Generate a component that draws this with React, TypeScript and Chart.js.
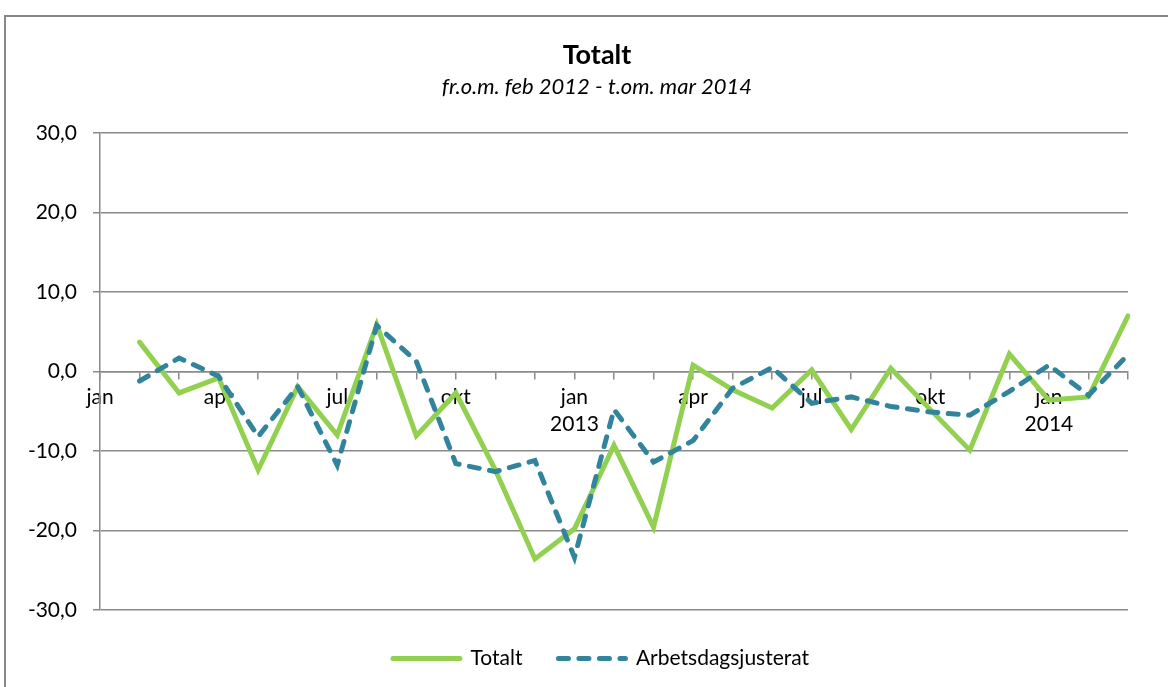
import React, { useEffect, useRef } from 'react';
import { Chart, registerables } from 'chart.js';

Chart.register(...registerables);

const FONT = 'Lato';

const tickLabels: (string | string[])[] = [
  'jan', '', '', 'apr', '', '', 'jul', '', '', 'okt', '', '',
  ['jan', '2013'], '', '', 'apr', '', '', 'jul', '', '', 'okt', '', '',
  ['jan', '2014'], '', '',
];

const totalt: (number | null)[] = [
  null, 3.7, -2.7, -0.8, -12.4, -1.9, -8.0, 5.9, -8.1, -2.7, -12.4, -23.6,
  -19.8, -9.3, -19.6, 0.8, -2.3, -4.6, 0.2, -7.3, 0.4, -4.8, -9.9, 2.2,
  -3.6, -3.2, 7.0,
];

const arbetsdagsjusterat: (number | null)[] = [
  null, -1.2, 1.7, -0.6, -8.2, -1.9, -11.8, 5.8, 1.3, -11.6, -12.6, -11.2,
  -23.4, -4.8, -11.4, -8.7, -2.1, 0.5, -4.0, -3.2, -4.4, -5.1, -5.5, -2.5,
  0.8, -3.0, 2.1,
];

const yTicks = [-30, -20, -10, 0, 10, 20, 30];

const GREEN = '#92D050';
const BLUE = '#31849B';
const GRID = '#8a8a8a';
const DASH = [10, 10.5];

const borderPlugin = {
  id: 'outerBorder',
  beforeDraw(chart: any) {
    const ctx = chart.ctx;
    ctx.save();
    ctx.fillStyle = '#ffffff';
    ctx.fillRect(0, 0, chart.width, chart.height);
    ctx.strokeStyle = '#878787';
    ctx.lineWidth = 2;
    ctx.strokeRect(5, 16, 1400, 1000);
    ctx.restore();
  },
};

// shift the title block and legend horizontally so they are centred where the reference has them
const shiftPlugin = {
  id: 'shiftBlocks',
  afterLayout(chart: any) {
    (chart.boxes || []).forEach((box: any) => {
      if (box.axis) return;
      const dx = box === chart.legend ? 37 : 33;
      box.left += dx;
      box.right += dx;
    });
  },
};

export default function App() {
  const ref = useRef<HTMLCanvasElement | null>(null);

  useEffect(() => {
    if (!ref.current) return;
    const chart = new Chart(ref.current, {
      type: 'line',
      data: {
        labels: tickLabels,
        datasets: [
          {
            label: 'Totalt',
            data: totalt,
            borderColor: GREEN,
            backgroundColor: GREEN,
            borderWidth: 5,
            borderCapStyle: 'round',
            pointRadius: 0,
            tension: 0,
            borderJoinStyle: 'miter',
            order: 2,
          },
          {
            label: 'Arbetsdagsjusterat',
            data: arbetsdagsjusterat,
            borderColor: BLUE,
            backgroundColor: BLUE,
            borderWidth: 5,
            borderDash: DASH,
            borderCapStyle: 'round',
            pointRadius: 0,
            tension: 0,
            order: 1,
          },
        ],
      },
      plugins: [borderPlugin, shiftPlugin],
      options: {
        responsive: false,
        animation: false,
        layout: { padding: { left: 0, right: 40, top: 39, bottom: 8 } },
        scales: {
          x: {
            type: 'category',
            position: { y: 0 },
            offset: false,
            grid: {
              display: true,
              drawOnChartArea: false,
              drawTicks: true,
              tickLength: 7,
              color: GRID,
              lineWidth: 1.5,
            },
            border: { display: true, color: GRID, width: 1.5 },
            ticks: {
              autoSkip: false,
              maxRotation: 0,
              minRotation: 0,
              padding: 5,
              color: '#000',
              font: { family: FONT, size: 21, lineHeight: 1.3 },
            },
          },
          y: {
            min: -30,
            max: 30,
            afterFit(scale: any) {
              scale.width = 100;
            },
            afterBuildTicks(scale: any) {
              scale.ticks = yTicks.map((v) => ({ value: v }));
            },
            grid: {
              color: GRID,
              lineWidth: 1.5,
              drawTicks: true,
              tickLength: 7,
            },
            border: { display: true, color: GRID, width: 1.5 },
            ticks: {
              padding: 16,
              color: '#000',
              font: { family: FONT, size: 21 },
              callback: (v: any) => Number(v).toFixed(1).replace('.', ','),
            },
          },
        },
        plugins: {
          title: {
            display: true,
            text: 'Totalt',
            color: '#000',
            font: { family: FONT, size: 27, weight: 'bold', lineHeight: 1.2 },
            padding: { top: 0, bottom: 2.6 },
          },
          subtitle: {
            display: true,
            text: 'fr.o.m. feb 2012 - t.om. mar 2014',
            color: '#000',
            font: { family: FONT, size: 22, style: 'italic', lineHeight: 1.2 },
            padding: { top: 0, bottom: 32.8 },
          },
          legend: {
            display: true,
            position: 'bottom',
            title: {
              display: true,
              text: '',
              font: { size: 1 },
              padding: { top: 1, bottom: 0 },
            },
            labels: {
              usePointStyle: true,
              pointStyle: 'line',
              pointStyleWidth: 67,
              padding: 36,
              color: '#000',
              font: { family: FONT, size: 21 },
              generateLabels: (chart: any) =>
                chart.data.datasets.map((ds: any, i: number) => ({
                  text: ds.label,
                  fillStyle: ds.borderColor,
                  strokeStyle: ds.borderColor,
                  lineWidth: 5,
                  lineDash: ds.borderDash || [],
                  lineDashOffset: 0,
                  lineCap: 'round',
                  lineJoin: 'miter',
                  pointStyle: 'line',
                  rotation: 0,
                  hidden: false,
                  datasetIndex: i,
                  fontColor: '#000',
                })),
            },
          },
          tooltip: { enabled: false },
        },
      },
    } as any);
    return () => chart.destroy();
  }, []);

  return (
    <div style={{ position: 'absolute', left: 0, top: 0, width: 1168, height: 687 }}>
      <canvas ref={ref} width={1168} height={687} style={{ display: 'block' }} />
    </div>
  );
}
